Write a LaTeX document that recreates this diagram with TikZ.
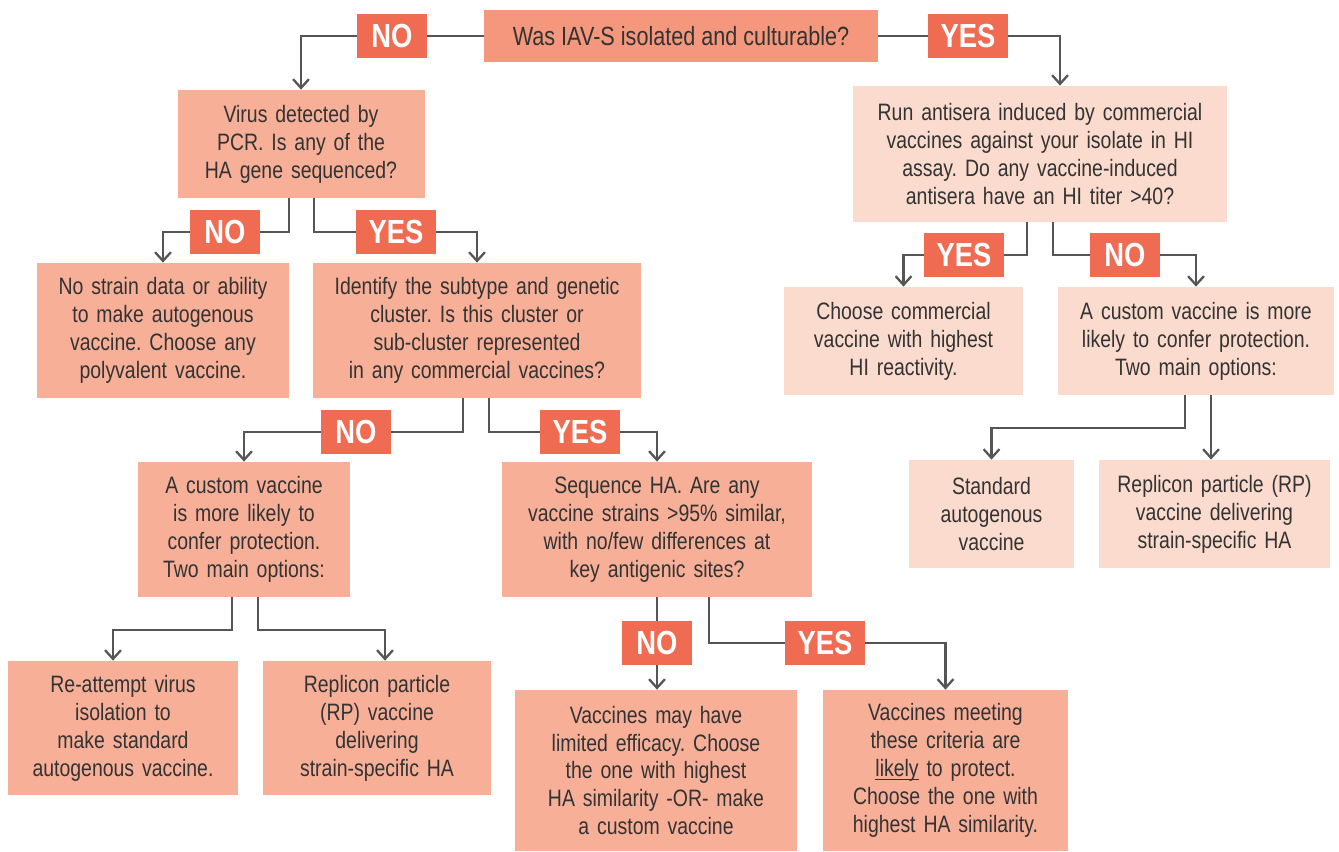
\documentclass[tikz,border=0pt]{standalone}
\usepackage{fontspec}
\setmainfont[FakeStretch=0.82]{Liberation Sans}
\usepackage{tikz}
\usetikzlibrary{arrows.meta}
\usepackage{xcolor}
\definecolor{topfill}{HTML}{F5977C}
\definecolor{midfill}{HTML}{F7AF98}
\definecolor{lightfill}{HTML}{FBDBCD}
\definecolor{labfill}{HTML}{EF6B52}
\definecolor{linegray}{HTML}{555555}
\definecolor{txtgray}{HTML}{333333}
\frenchspacing

\begin{document}
\begin{tikzpicture}[
  box/.style={rectangle, inner xsep=0.1cm, inner ysep=0pt, align=center, text=txtgray,
    font=\fontsize{13.5}{15.9}\selectfont},
  lab/.style={rectangle, fill=labfill, text=white, inner sep=0pt,
    minimum height=0.88cm, font=\fontsize{19}{19}\selectfont\bfseries},
  conn/.style={draw=linegray, line width=1.3pt},
  arr/.style={conn, -{Straight Barb[length=5pt,width=9pt,line width=1.3pt]}}
]
\useasboundingbox (0,0) rectangle (26.78,-17.04);

% question at the top
\node[box, fill=topfill, minimum width=7.88cm, minimum height=1.04cm, font=\fontsize{15}{17}\selectfont] (top) at (13.62,-0.72) {Was IAV-S isolated and culturable?};
\node[lab, minimum width=1.4cm] (noT) at (7.84,-0.72) {NO};
\node[lab, minimum width=1.6cm] (yesT) at (19.36,-0.72) {YES};

% left branch
\node[box, fill=midfill, text width=4.74cm, minimum height=2.16cm] (pcr) at (6.02,-2.88) {Virus detected by\\PCR. Is any of the\\HA gene sequenced?};
\node[lab, minimum width=1.4cm] (noA) at (4.50,-4.64) {NO};
\node[lab, minimum width=1.6cm] (yesA) at (7.92,-4.64) {YES};
\node[box, fill=midfill, text width=4.82cm, minimum height=2.70cm] (nodata) at (3.26,-6.61) {No strain data or ability\\to make autogenous\\vaccine. Choose any\\polyvalent vaccine.};
\node[box, fill=midfill, text width=6.36cm, minimum height=2.70cm] (subtype) at (9.54,-6.61) {Identify the subtype and genetic\\cluster. Is this cluster or\\sub-cluster represented\\in any commercial vaccines?};
\node[lab, minimum width=1.4cm] (noD) at (7.12,-8.64) {NO};
\node[lab, minimum width=1.6cm] (yesD) at (11.60,-8.64) {YES};
\node[box, fill=midfill, text width=4.04cm, minimum height=2.70cm] (customL) at (4.88,-10.59) {A custom vaccine\\is more likely to\\confer protection.\\Two main options:};
\node[box, fill=midfill, text width=6.00cm, minimum height=2.70cm] (seqHA) at (13.14,-10.59) {Sequence HA. Are any\\vaccine strains >95\% similar,\\with no/few differences at\\key antigenic sites?};
\node[box, fill=midfill, text width=4.40cm, minimum height=2.68cm] (reatt) at (2.46,-14.56) {Re-attempt virus\\isolation to\\make standard\\autogenous vaccine.};
\node[box, fill=midfill, text width=4.36cm, minimum height=2.68cm] (rpL) at (7.54,-14.56) {Replicon particle\\(RP) vaccine\\delivering\\strain-specific HA};
\node[lab, minimum width=1.4cm] (noF) at (13.14,-12.86) {NO};
\node[lab, minimum width=1.6cm] (yesF) at (16.50,-12.86) {YES};
\node[box, fill=midfill, text width=5.44cm, minimum height=3.22cm] (limited) at (13.12,-15.41) {Vaccines may have\\limited efficacy. Choose\\the one with highest\\HA similarity -OR- make\\a custom vaccine};
\node[box, fill=midfill, text width=4.70cm, minimum height=3.22cm] (meeting) at (18.91,-15.41) {Vaccines meeting\\these criteria are\\\underline{\smash{likely}} to protect.\\Choose the one with\\highest HA similarity.};

% right branch
\node[box, fill=lightfill, text width=7.28cm, minimum height=2.72cm] (hi) at (20.80,-3.08) {Run antisera induced by commercial\\vaccines against your isolate in HI\\assay. Do any vaccine-induced\\antisera have an HI titer >40?};
\node[lab, minimum width=1.6cm] (yesB) at (19.28,-5.10) {YES};
\node[lab, minimum width=1.4cm] (noB) at (22.50,-5.10) {NO};
\node[box, fill=lightfill, text width=4.58cm, minimum height=2.16cm] (choose) at (18.07,-6.82) {Choose commercial\\vaccine with highest\\HI reactivity.};
\node[box, fill=lightfill, text width=5.32cm, minimum height=2.16cm] (customR) at (23.92,-6.82) {A custom vaccine is more\\likely to confer protection.\\Two main options:};
\node[box, fill=lightfill, text width=3.10cm, minimum height=2.16cm] (std) at (19.83,-10.28) {Standard\\autogenous\\vaccine};
\node[box, fill=lightfill, text width=4.42cm, minimum height=2.16cm] (rpR) at (24.29,-10.28) {Replicon particle (RP)\\vaccine delivering\\strain-specific HA};

% connectors
\draw[conn] (top.west) -- (noT.east);
\draw[arr] (noT.west) -| (pcr.north);
\draw[conn] (top.east) -- (yesT.west);
\draw[arr] (yesT.east) -| ([xshift=0.40cm]hi.north);

\draw[conn] ([xshift=-0.24cm]pcr.south) |- (noA.east);
\draw[arr] (noA.west) -| (nodata.north);
\draw[conn] ([xshift=0.26cm]pcr.south) |- (yesA.west);
\draw[arr] (yesA.east) -| (subtype.north);

\draw[conn] ([xshift=-0.28cm]subtype.south) |- (noD.east);
\draw[arr] (noD.west) -| (customL.north);
\draw[conn] ([xshift=0.24cm]subtype.south) |- (yesD.west);
\draw[arr] (yesD.east) -| (seqHA.north);

\draw[arr] ([xshift=-0.24cm]customL.south) -- ++(0,-0.66) -| ([xshift=-0.20cm]reatt.north);
\draw[arr] ([xshift=0.28cm]customL.south) -- ++(0,-0.66) -| ([xshift=0.16cm]rpL.north);

\draw[conn] (seqHA.south) -- (noF.north);
\draw[arr] (noF.south) -- (limited.north -| noF.south);
\draw[conn] ([xshift=1.04cm]seqHA.south) |- (yesF.west);
\draw[arr] (yesF.east) -| (meeting.north);

\draw[conn] ([xshift=-0.26cm]hi.south) |- (yesB.east);
\draw[arr] (yesB.west) -| (choose.north);
\draw[conn] ([xshift=0.26cm]hi.south) |- (noB.west);
\draw[arr] (noB.east) -| (customR.north);

\draw[arr] ([xshift=-0.22cm]customR.south) -- ++(0,-0.66) -| (std.north);
\draw[arr] ([xshift=0.30cm]customR.south) -- ([xshift=0.30cm]customR.south |- rpR.north);
\end{tikzpicture}
\end{document}
